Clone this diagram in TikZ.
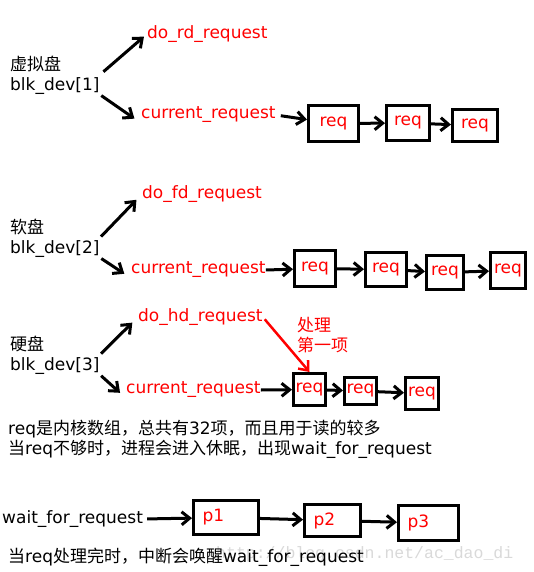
\documentclass[tikz,border=0pt]{standalone}
\usepackage{fontspec}
\setmainfont{DejaVu Sans}
\newfontfamily\cjk{Noto Sans CJK SC}
\newfontfamily\wmfont{Liberation Mono}
\usepackage{xcolor}
\usepackage{tikz}
\usetikzlibrary{arrows.meta}
\tikzset{>={Straight Barb[length=8pt,width=13pt]}}
\newcommand{\red}{\color{red}}
\newcommand{\zh}[1]{{\cjk #1}}

\begin{document}
\begin{tikzpicture}[x=1pt,y=-1pt,font=\fontsize{17}{20}\selectfont,
  every node/.style={inner sep=0pt,anchor=west,align=left},
  box/.style={draw,line width=3pt,anchor=center,text=red},
  arr/.style={->,line width=3pt}]

\useasboundingbox (0,0) rectangle (533,572);

\draw node at (10,75) (dev1) {\zh{虚拟盘}\\blk\_dev[1]};
\draw node[text=red] at (147,34) (rd) {do\_rd\_request};
\draw node[text=red] at (141,115) (cur1) {current\_request};
\draw node[box,minimum width=50,minimum height=36] at (333.5,123.5) (r11) {req};
\draw node[box,minimum width=43,minimum height=35] at (408,123) (r12) {req};
\draw node[box,minimum width=45,minimum height=32] at (475,125.5) (r13) {req};

\draw [arr,shorten <=5pt,shorten >=4pt] (dev1.east) -- (rd.west);
\draw [arr,shorten <=2pt,shorten >=8pt] (dev1.south east) -- (cur1.south west);
\draw [arr,shorten <=5pt] (cur1.east) -- (r11);
\draw [arr] (r11) -- (r12);
\draw [arr] (r12) -- (r13);

\draw node at (10,238) (dev2) {\zh{软盘}\\blk\_dev[2]};
\draw node[text=red] at (142,194) (fd) {do\_fd\_request};
\draw node[text=red] at (131,270) (cur2) {current\_request};
\draw node[box,minimum width=41,minimum height=36] at (315,268.5) (r21) {req};
\draw node[box,minimum width=41,minimum height=34] at (386,269.5) (r22) {req};
\draw node[box,minimum width=37,minimum height=34] at (445,272.5) (r23) {req};
\draw node[box,minimum width=35,minimum height=36] at (508,270.5) (r24) {req};

\draw [arr,shorten <=2pt,shorten >=8pt] (dev2.east) -- (fd.west);
\draw [arr,shorten <=2pt,shorten >=8pt] (dev2.south east) -- (cur2.south west);
\draw [arr] (cur2.east) -- (r21);
\draw [arr] (r21) -- (r22);
\draw [arr] (r22) -- (r23);
\draw [arr] (r23) -- (r24);

\draw node at (10,355) (dev3) {\zh{硬盘}\\blk\_dev[3]};
\draw node[text=red] at (138,317) (hd) {do\_hd\_request};
\draw node[text=red] at (126,390) (cur3) {current\_request};
\draw node[text=red,font=\cjk\fontsize{17}{19.5}\selectfont] at (297,335) (first) {处理\\第一项};
\draw node[box,minimum width=32,minimum height=32] at (309.5,389.5) (r31) {req};
\draw node[box,minimum width=32,minimum height=27] at (360.5,391) (r32) {req};
\draw node[box,minimum width=33,minimum height=32] at (422,393.5) (r33) {req};

\draw [arr,shorten <=2pt,shorten >=8pt] (dev3.east) -- (hd.west);
\draw [arr,shorten <=2pt,shorten >=8pt] (dev3.south east) -- (cur3.south west);
\draw [arr] (cur3.east) -- (r31);
\draw [arr] (r31) -- (r32);
\draw [arr] (r32) -- (r33);
\draw [arr,red,line width=2.5pt,shorten <=3pt] (hd.east) -- (r31.north);

\draw node at (8,439.5) (note) {req\zh{是内核数组，总共有}32\zh{项，而且用于读的较多}\\
\zh{当}req\zh{不够时，进程会进入休眠，出现}wait\_for\_request};

\draw node at (2,519) (wait) {wait\_for\_request};
\draw node[box,minimum width=65,minimum height=34,text width=47] at (226,517.5) (p1) {p1};
\draw node[box,minimum width=56,minimum height=32,text width=38] at (332.5,520.5) (p2) {p2};
\draw node[box,minimum width=60,minimum height=35,text width=42] at (428.5,523) (p3) {p3};

\draw [arr,shorten <=4pt] (wait.east) -- (p1);
\draw [arr] (p1) -- (p2);
\draw [arr] (p2) -- (p3);

\draw node[text=gray!30,font=\wmfont\fontsize{16.5}{20}\selectfont] at (216,554) (wm) {http://blog.csdn.net/ac\_dao\_di};
\draw node at (8,557) (done) {\zh{当}req\zh{处理完时，中断会唤醒}wait\_for\_request};

\end{tikzpicture}
\end{document}
